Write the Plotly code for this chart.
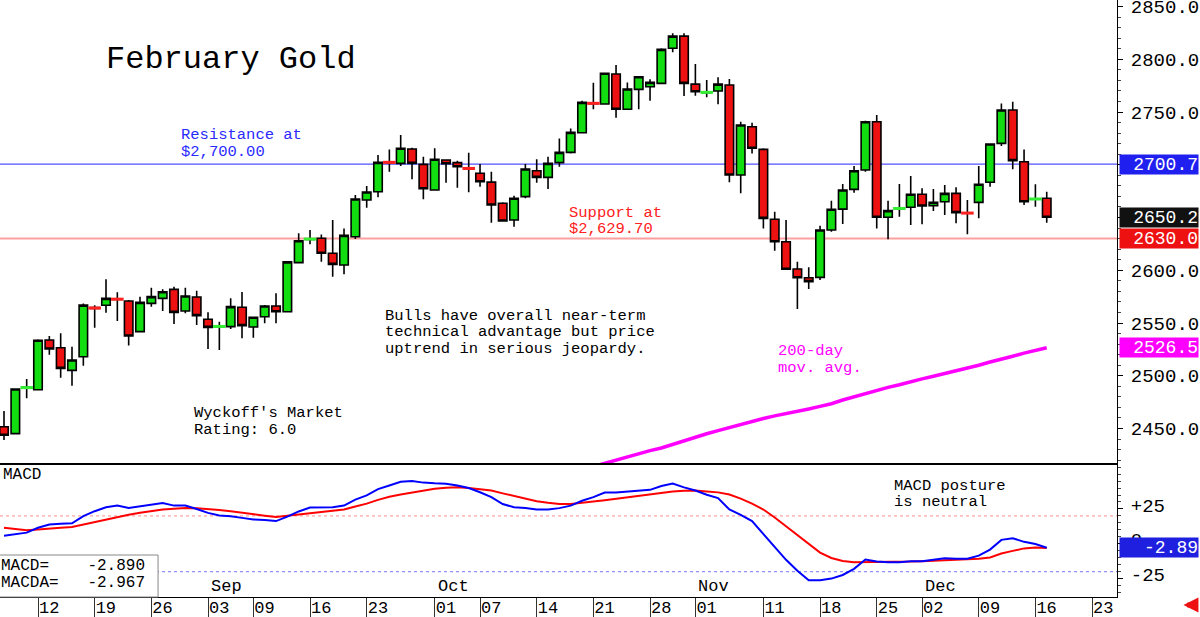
import plotly.graph_objects as go
import pandas as pd

# ---------------- data ----------------
holidays = ["2024-09-02", "2024-11-28", "2024-12-25"]
calendar = [d for d in pd.bdate_range("2024-08-07", "2024-12-31")
            if d.strftime("%Y-%m-%d") not in holidays]

opens = [2451.7, 2445.1, 2488.4, 2486.8, 2533.9, 2526.6, 2505.1, 2518.0, 2564.6, 2566.8,
         2572.9, 2570.9, 2541.8, 2568.6, 2573.4, 2581.9, 2561.4, 2574.7, 2553.5, 2546.5,
         2546.6, 2564.9, 2546.2, 2556.0, 2566.1, 2560.7, 2607.2, 2629.3, 2630.3, 2616.1,
         2605.0, 2631.8, 2666.6, 2674.5, 2702.6, 2701.3, 2714.9, 2700.4, 2676.1, 2704.5,
         2702.0, 2696.8, 2691.9, 2683.6, 2663.5, 2647.6, 2669.8, 2694.4, 2688.1, 2702.0,
         2711.8, 2730.4, 2758.5, 2757.6, 2786.0, 2752.6, 2771.5, 2774.0, 2777.2, 2810.4,
         2822.0, 2776.5, 2768.3, 2769.9, 2775.6, 2690.3, 2736.1, 2714.6, 2648.3, 2627.0,
         2601.2, 2592.9, 2593.3, 2638.2, 2658.0, 2676.7, 2695.0, 2740.8, 2650.2, 2658.3,
         2659.7, 2672.0, 2661.2, 2665.0, 2672.9, 2654.4, 2664.4, 2683.4, 2720.3, 2751.9,
         2702.9, 2667.3, 2668.2]
highs = [2466.5, 2488.0, 2496.9, 2534.5, 2537.7, 2540.2, 2527.5, 2568.6, 2566.8, 2591.4,
         2579.1, 2571.8, 2574.9, 2583.5, 2581.9, 2584.4, 2583.5, 2580.6, 2560.1, 2551.2,
         2573.4, 2579.4, 2556.0, 2567.0, 2578.2, 2608.4, 2635.0, 2638.2, 2634.0, 2647.6,
         2639.7, 2671.3, 2679.9, 2709.2, 2714.6, 2728.2, 2716.2, 2707.6, 2715.6, 2705.2,
         2703.9, 2711.4, 2700.7, 2693.4, 2664.4, 2670.7, 2700.7, 2705.2, 2707.6, 2725.0,
         2734.5, 2760.7, 2777.8, 2787.3, 2794.5, 2778.1, 2784.1, 2781.0, 2810.4, 2824.6,
         2824.6, 2795.5, 2780.3, 2782.9, 2781.3, 2740.8, 2739.9, 2715.6, 2655.5, 2647.6,
         2608.1, 2602.8, 2642.2, 2665.9, 2681.8, 2698.8, 2741.8, 2747.2, 2665.9, 2681.8,
         2689.3, 2677.7, 2677.0, 2680.8, 2678.6, 2666.6, 2698.8, 2720.3, 2758.2, 2759.8,
         2714.6, 2681.5, 2674.5]
lows = [2439.1, 2444.5, 2478.6, 2486.0, 2520.0, 2498.2, 2490.6, 2509.5, 2545.6, 2559.8,
        2551.9, 2528.8, 2541.5, 2565.5, 2561.4, 2549.0, 2559.2, 2548.1, 2525.4, 2524.4,
        2544.3, 2535.5, 2536.1, 2549.7, 2549.7, 2560.2, 2606.8, 2624.6, 2608.1, 2593.9,
        2596.2, 2629.6, 2659.3, 2669.1, 2693.4, 2698.8, 2686.2, 2667.3, 2675.8, 2683.0,
        2678.3, 2673.9, 2679.2, 2645.0, 2646.2, 2641.3, 2668.2, 2683.0, 2677.0, 2698.2,
        2710.8, 2730.0, 2752.6, 2757.3, 2744.6, 2752.3, 2752.6, 2760.7, 2776.8, 2806.6,
        2765.2, 2765.5, 2764.0, 2757.3, 2683.4, 2672.9, 2710.8, 2639.7, 2618.5, 2600.5,
        2563.3, 2582.2, 2590.8, 2636.6, 2643.8, 2673.5, 2693.4, 2639.7, 2629.3, 2650.8,
        2642.9, 2643.6, 2656.2, 2652.4, 2644.5, 2634.1, 2649.2, 2679.2, 2717.8, 2695.7,
        2661.8, 2660.2, 2645.0]
closes = [2443.6, 2487.4, 2489.1, 2533.6, 2525.4, 2507.0, 2514.9, 2567.0, 2563.8, 2573.4,
          2572.3, 2537.7, 2569.6, 2575.0, 2579.7, 2560.1, 2575.6, 2557.0, 2545.9, 2547.0,
          2565.5, 2547.5, 2555.4, 2566.1, 2560.7, 2608.0, 2628.0, 2629.9, 2616.1, 2605.6,
          2633.1, 2667.5, 2674.2, 2702.3, 2702.0, 2715.6, 2701.3, 2677.3, 2705.2, 2701.0,
          2698.2, 2696.3, 2683.9, 2661.8, 2646.7, 2668.2, 2696.0, 2688.1, 2701.3, 2711.8,
          2730.7, 2759.2, 2758.0, 2786.7, 2752.6, 2771.8, 2783.5, 2778.1, 2809.4, 2822.0,
          2777.2, 2769.2, 2769.0, 2776.5, 2690.3, 2737.7, 2715.6, 2649.2, 2627.0, 2600.9,
          2592.9, 2589.2, 2638.2, 2657.8, 2676.1, 2694.4, 2740.8, 2650.2, 2656.5, 2658.9,
          2672.0, 2660.9, 2664.4, 2672.9, 2654.6, 2654.0, 2681.5, 2719.7, 2751.9, 2703.9,
          2665.0, 2667.8, 2650.2]

ma200_start = 51
ma200 = [2411.0, 2414.0, 2417.0, 2420.0, 2423.5, 2426.5, 2429.0, 2431.5, 2435.0, 2438.5,
         2441.5, 2445.0, 2448.0, 2451.0, 2454.0, 2456.5, 2459.5, 2462.0, 2464.0, 2466.5,
         2468.5, 2471.0, 2473.5, 2477.0, 2480.0, 2483.5, 2486.5, 2489.0, 2491.5, 2494.5,
         2497.0, 2499.5, 2502.0, 2504.5, 2507.0, 2510.0, 2513.0, 2515.5, 2518.5, 2521.5,
         2524.0, 2526.5]

macd = [5.7, 7.0, 8.0, 11.5, 13.9, 14.3, 14.7, 19.8, 23.4, 26.2,
        27.4, 25.7, 26.9, 28.1, 29.2, 27.4, 27.4, 25.0, 22.2, 20.3,
        19.8, 18.6, 17.5, 17.0, 16.3, 19.5, 23.2, 26.0, 26.2, 26.2,
        27.4, 31.7, 34.7, 39.2, 41.8, 44.5, 45.1, 43.9, 43.4, 43.1,
        41.9, 40.0, 37.0, 33.5, 28.5, 26.2, 25.7, 24.6, 24.6, 25.6,
        27.4, 30.9, 33.5, 36.8, 36.8, 37.4, 38.1, 38.7, 41.5, 43.2,
        40.5, 38.2, 35.2, 32.8, 24.6, 20.8, 16.3, 7.0, -2.3, -11.5,
        -19.3, -26.2, -26.2, -25.0, -22.4, -18.0, -11.3, -12.7, -13.2, -13.2,
        -12.5, -12.5, -11.5, -10.4, -10.8, -10.8, -8.5, -4.2, 2.8, 4.0,
        1.4, -0.2, -2.890]
macda = [11.5, 10.5, 9.7, 10.2, 11.1, 11.5, 12.0, 13.8, 15.6, 17.5,
         19.3, 20.8, 22.2, 23.4, 24.6, 25.1, 25.6, 25.5, 25.0, 24.2,
         23.4, 22.2, 21.0, 20.2, 19.3, 20.2, 21.0, 21.9, 22.7, 23.7,
         24.6, 26.7, 28.8, 31.5, 33.8, 35.4, 36.8, 38.1, 39.5, 40.3,
         40.6, 40.1, 39.3, 38.2, 36.2, 34.3, 32.4, 30.6, 29.4, 28.6,
         28.6, 29.3, 30.4, 31.3, 32.4, 33.5, 34.5, 35.4, 36.6, 37.6,
         38.1, 38.2, 37.6, 36.9, 35.4, 32.4, 28.8, 24.6, 18.9, 12.6,
         5.9, -0.5, -6.3, -10.2, -12.4, -13.2, -13.2, -13.2, -13.2, -13.0,
         -12.8, -12.5, -12.2, -11.9, -11.5, -11.1, -10.7, -9.8, -7.0, -5.1,
         -3.3, -2.6, -2.967]

resistance = 2700.7
support = 2630.0
macd_upper, macd_lower = 20, -20

tick_dates = ["2024-08-12", "2024-08-19", "2024-08-26", "2024-09-03", "2024-09-09",
              "2024-09-16", "2024-09-23", "2024-10-01", "2024-10-07", "2024-10-14",
              "2024-10-21", "2024-10-28", "2024-11-01", "2024-11-11", "2024-11-18",
              "2024-11-25", "2024-12-02", "2024-12-09", "2024-12-16", "2024-12-23"]
tick_text = ["12", "19", "26", "03", "09", "16", "23", "01", "07", "14",
             "21", "28", "01", "11", "18", "25", "02", "09", "16", "23"]
month_labels = ["Sep", "Oct", "Nov", "Dec"]
month_first_days = ["2024-09-03", "2024-10-01", "2024-11-01", "2024-12-02"]

price_ticks = [2450, 2500, 2550, 2600, 2650, 2700, 2750, 2800, 2850]
price_tick_text = ["2450.0", "2500.0", "2550.0", "2600.0", "", "", "2750.0", "2800.0", "2850.0"]
macd_ticks = [-25, 0, 25]
macd_tick_text = ["-25", "0", "+25"]

# ---------------- helpers ----------------
cal_str = [d.strftime("%Y-%m-%d") for d in calendar]
n = len(closes)
xs = list(range(n))

def idx(ds):
    return cal_str.index(ds)

PLOT_W = 1116.6
PLOT_H = 597.0

def pxx(x):
    return x / PLOT_W

def pyy(y):
    return (PLOT_H - y) / PLOT_H

MONO = "Liberation Mono, DejaVu Sans Mono, monospace"
GREEN = "#11dd11"
RED = "#ee1111"

fig = go.Figure()

fig.add_trace(go.Candlestick(
    x=xs, open=opens, high=highs, low=lows, close=closes,
    increasing=dict(fillcolor=GREEN, line=dict(color="black", width=1.6)),
    decreasing=dict(fillcolor=RED, line=dict(color="black", width=1.6)),
    whiskerwidth=0, xaxis="x", yaxis="y", showlegend=False, hoverinfo="skip"))

# dojis drawn as coloured dashes
dx, dy, dc = [], [], []
for i in range(n):
    if abs(closes[i] - opens[i]) < 1.0:
        dx.append(i)
        dy.append((opens[i] + closes[i]) / 2)
        dc.append("#33ee33" if closes[i] > opens[i] else "#ff2020")
fig.add_trace(go.Scatter(x=dx, y=dy, mode="markers", xaxis="x", yaxis="y",
                         marker=dict(symbol="line-ew", size=9, line=dict(width=3, color=dc)),
                         showlegend=False, hoverinfo="skip"))

fig.add_trace(go.Scatter(x=list(range(ma200_start, ma200_start + len(ma200))), y=ma200,
                         mode="lines", line=dict(color="#ff00ff", width=3.5),
                         xaxis="x", yaxis="y", showlegend=False, hoverinfo="skip"))

fig.add_trace(go.Scatter(x=xs, y=macda, mode="lines", line=dict(color="#ff0000", width=2),
                         xaxis="x2", yaxis="y2", showlegend=False, hoverinfo="skip"))
fig.add_trace(go.Scatter(x=xs, y=macd, mode="lines", line=dict(color="#0000ff", width=2),
                         xaxis="x2", yaxis="y2", showlegend=False, hoverinfo="skip"))

xr = [-0.353, 98.2]
split = 1 - 463 / PLOT_H

shapes = [
    dict(type="line", xref="paper", x0=0, x1=1, yref="y", y0=resistance, y1=resistance,
         line=dict(color="#5050ff", width=1.2), layer="below"),
    dict(type="line", xref="paper", x0=0, x1=1, yref="y", y0=support, y1=support,
         line=dict(color="#ffa0a0", width=2), layer="below"),
    dict(type="line", xref="paper", x0=0, x1=1, yref="y2", y0=macd_upper, y1=macd_upper,
         line=dict(color="#ff9090", width=1, dash="dot"), layer="below"),
    dict(type="line", xref="paper", x0=0, x1=1, yref="y2", y0=macd_lower, y1=macd_lower,
         line=dict(color="#9090ff", width=1.2, dash="dot"), layer="below"),
    # MACD readout box
    dict(type="rect", xref="paper", yref="paper", x0=pxx(-2), x1=pxx(158),
         y0=pyy(597), y1=pyy(555), line=dict(color="#888888", width=1),
         fillcolor="white"),
]

ann = []

def text(x, y, s, size=15.5, color="black", family=MONO):
    ann.append(dict(xref="paper", yref="paper", x=pxx(x), y=pyy(y), text=s,
                    showarrow=False, xanchor="left", yanchor="middle",
                    font=dict(family=family, size=size, color=color)))

text(104, 60, "February Gold", size=32)
text(179, 135, "Resistance at", color="#2a2aff")
text(179, 152, "$2,700.00", color="#2a2aff")
text(567, 213, "Support at", color="#ff2020")
text(567, 229, "$2,629.70", color="#ff2020")
text(383, 316, "Bulls have overall near-term")
text(383, 332, "technical advantage but price")
text(383, 349, "uptrend in serious jeopardy.")
text(776, 351, "200-day", color="#ff00ff")
text(776, 368, "mov. avg.", color="#ff00ff")
text(192, 413, "Wyckoff's Market")
text(192, 430, "Rating: 6.0")
text(1, 475, "MACD", size=16)
text(892, 486, "MACD posture")
text(892, 502, "is neutral")
text(-1, 566, "MACD=    %.3f" % macd[-1], size=16)
text(-1, 583, "MACDA=   %.3f" % macda[-1], size=16)

for lab, d in zip(month_labels, month_first_days):
    ann.append(dict(xref="x2", yref="paper", x=idx(d), y=pyy(586), text=lab,
                    showarrow=False, xanchor="left", yanchor="middle", xshift=1,
                    font=dict(family=MONO, size=17, color="black")))

def value_box(yref, val, label, bg):
    ann.append(dict(xref="paper", yref=yref, x=1, y=val, text=label, showarrow=False,
                    xanchor="left", yanchor="middle", xshift=2, width=78, height=19,
                    align="right", bgcolor=bg, borderpad=0,
                    font=dict(family=MONO, size=18, color="white")))

value_box("y", resistance, "2700.7", "#1f1fef")
value_box("y", closes[-1], "%.1f" % closes[-1], "#111111")
value_box("y", support, "2630.0", "#ee1111")
value_box("y", ma200[-1], "%.1f" % ma200[-1], "#ff00ff")
value_box("y2", macd[-1], "%.2f" % macd[-1], "#1f1fdf")

ann.append(dict(xref="paper", yref="paper", x=pxx(1183), y=pyy(605), ax=14, ay=0,
                text="", showarrow=True, arrowhead=2, arrowsize=0.6, arrowwidth=5,
                arrowcolor="#ee1111"))

fig.update_layout(
    width=1200, height=617,
    margin=dict(l=0, r=1200 - PLOT_W, t=0, b=617 - PLOT_H, autoexpand=False),
    paper_bgcolor="white", plot_bgcolor="white",
    showlegend=False, boxgap=0.25, boxgroupgap=0.0,
    shapes=shapes, annotations=ann,
    xaxis=dict(domain=[0, 1], range=xr, anchor="y", showgrid=False, zeroline=False,
               showticklabels=False, ticks="", showline=True, linecolor="black",
               linewidth=2, rangeslider=dict(visible=False), fixedrange=True),
    yaxis=dict(domain=[split, 1], range=[2417.3, 2856.2], side="right", anchor="x",
               showgrid=False, zeroline=False, tickvals=price_ticks,
               ticktext=price_tick_text, ticks="outside", ticklen=5, tickcolor="black",
               ticklabelstandoff=4, ticklabeloverflow="allow", automargin=False,
               tickfont=dict(family=MONO, size=19, color="black"),
               minor=dict(ticks="outside", ticklen=3, dtick=10, tickcolor="#444444"),
               showline=True, linecolor="black", linewidth=1),
    xaxis2=dict(domain=[0, 1], range=xr, anchor="y2", showgrid=False, zeroline=False,
                tickvals=[idx(d) for d in tick_dates], ticktext=tick_text,
                ticks="outside", ticklen=20, tickcolor="#333333", tickwidth=1,
                ticklabelposition="outside right", ticklabelstandoff=-5,
                ticklabeloverflow="allow", automargin=False,
                tickfont=dict(family=MONO, size=17, color="black"),
                showline=True, linecolor="black", linewidth=1),
    yaxis2=dict(domain=[0, split - 0.003], range=[-38.2, 56.7], side="right", anchor="x2",
                showgrid=False, zeroline=False, tickvals=macd_ticks,
                ticktext=macd_tick_text, ticks="outside", ticklen=5, tickcolor="black",
                ticklabelstandoff=4, ticklabelshift=-4, automargin=False,
                tickfont=dict(family=MONO, size=19, color="black"),
                minor=dict(ticks="outside", ticklen=3, dtick=5, tickcolor="#444444"),
                showline=True, linecolor="black", linewidth=1),
)

fig.write_html("out.html")
